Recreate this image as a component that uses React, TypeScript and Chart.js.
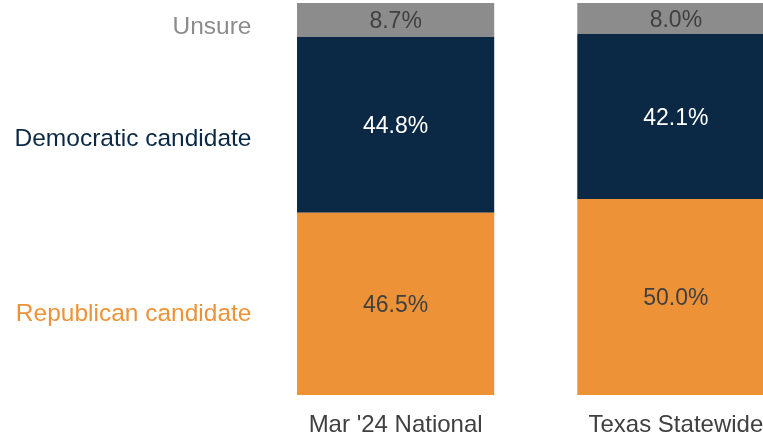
import React, { useEffect, useRef } from "react";
import { Chart, registerables } from "chart.js";

Chart.register(...registerables);

const categories = ["Mar '24 National", "Texas Statewide"];
const seriesNames = ["Republican candidate", "Democratic candidate", "Unsure"];
const republican = [46.5, 50.0];
const democratic = [44.8, 42.1];
const unsure = [8.7, 8.0];

const FONT = "'Liberation Sans', Arial, Helvetica, sans-serif";
const barColors = ["#EE9237", "#0B2844", "#8C8C8C"];
const valueLabelColors = ["#404040", "#FFFFFF", "#404040"];
const sideLabelColors = ["#EE9237", "#0B2844", "#8C8C8C"];
const sideLabelNudge = [10, 14, 7];

export default function App() {
  const ref = useRef<HTMLCanvasElement | null>(null);

  useEffect(() => {
    const canvas = ref.current;
    if (!canvas) return;

    const labelsPlugin = {
      id: "customLabels",
      afterDatasetsDraw(chart: any) {
        const ctx = chart.ctx as CanvasRenderingContext2D;
        const area = chart.chartArea;
        ctx.save();
        chart.data.datasets.forEach((ds: any, di: number) => {
          const meta = chart.getDatasetMeta(di);
          meta.data.forEach((bar: any, i: number) => {
            const v = ds.data[i];
            const yMid = (bar.y + bar.base) / 2;
            ctx.font = `23px ${FONT}`;
            ctx.fillStyle = valueLabelColors[di];
            ctx.textAlign = "center";
            ctx.textBaseline = "middle";
            ctx.fillText(v.toFixed(1) + "%", bar.x, yMid + 2);
          });
          const first = meta.data[0];
          const y = (first.y + first.base) / 2 + sideLabelNudge[di];
          ctx.font = `24.5px ${FONT}`;
          ctx.fillStyle = sideLabelColors[di];
          ctx.textAlign = "right";
          ctx.textBaseline = "middle";
          ctx.fillText(ds.label, area.left - 4, y);
        });
        ctx.restore();
      },
    };

    const chart = new Chart(canvas, {
      type: "bar",
      data: {
        labels: categories,
        datasets: [
          { label: seriesNames[0], data: republican, backgroundColor: barColors[0] },
          { label: seriesNames[1], data: democratic, backgroundColor: barColors[1] },
          { label: seriesNames[2], data: unsure, backgroundColor: barColors[2] },
        ],
      },
      options: {
        responsive: false,
        animation: false,
        devicePixelRatio: 1,
        datasets: {
          bar: { barPercentage: 0.7036, categoryPercentage: 1, borderWidth: 0 },
        },
        layout: { padding: { left: 255.5, right: 0, top: 3, bottom: 0 } },
        plugins: {
          legend: { display: false },
          tooltip: { enabled: false },
        },
        scales: {
          x: {
            stacked: true,
            grid: { display: false, drawTicks: false },
            border: { display: false },
            ticks: {
              padding: 16,
              color: "#404040",
              font: { family: FONT, size: 24 },
            },
            afterFit(scale: any) {
              scale.height = 43;
            },
          },
          y: {
            stacked: true,
            display: false,
            min: 0,
            max: 100,
          },
        },
      },
      plugins: [labelsPlugin],
    });

    return () => chart.destroy();
  }, []);

  return (
    <div
      style={{
        position: "absolute",
        left: 0,
        top: 0,
        width: 763,
        height: 438,
        overflow: "hidden",
        background: "#FFFFFF",
      }}
    >
      <canvas ref={ref} width={816} height={438} style={{ display: "block" }} />
    </div>
  );
}
